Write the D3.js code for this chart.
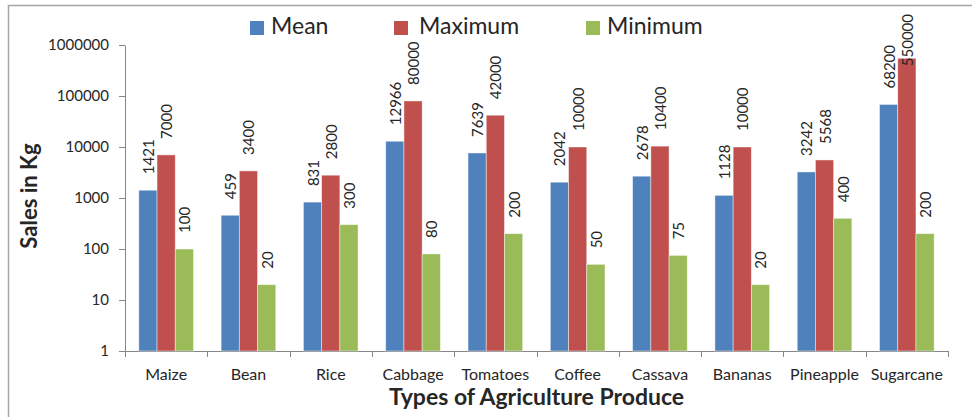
<!DOCTYPE html>
<html>
<head>
<meta charset="utf-8">
<script src="https://cdn.jsdelivr.net/npm/d3@7"></script>
<style>
  html, body { margin: 0; padding: 0; background: #fff; }
  svg { display: block; font-family: Lato, "Open Sans", sans-serif; }
</style>
</head>
<body>
<svg id="chart" width="972" height="417"></svg>
<script>
// Agricultural produce sales (kg): mean, maximum and minimum per crop
const categories = ["Maize", "Bean", "Rice", "Cabbage", "Tomatoes", "Coffee", "Cassava", "Bananas", "Pineapple", "Sugarcane"];
const meanValues = [1421, 459, 831, 12966, 7639, 2042, 2678, 1128, 3242, 68200];
const maxValues  = [7000, 3400, 2800, 80000, 42000, 10000, 10400, 10000, 5568, 550000];
const minValues  = [100, 20, 300, 80, 200, 50, 75, 20, 400, 200];
const seriesNames = ["Mean", "Maximum", "Minimum"];
const seriesColors = ["#4F81BD", "#C0504D", "#9BBB59"];
const yTickValues = [1, 10, 100, 1000, 10000, 100000, 1000000];

const seriesValues = [meanValues, maxValues, minValues];

const svg = d3.select("#chart");
const margin = { left: 125, right: 24, top: 45, bottom: 66 };
const W = 972, H = 417;
const plotW = W - margin.left - margin.right;
const plotH = H - margin.top - margin.bottom;

// outer chart frame
svg.append("rect")
  .attr("x", 8.5).attr("y", 5.5)
  .attr("width", W + 10).attr("height", H + 10)
  .attr("fill", "none").attr("stroke", "#a6a6a6").attr("stroke-width", 1.5);

const g = svg.append("g").attr("transform", `translate(${margin.left},${margin.top})`);

const x0 = d3.scaleBand().domain(categories).range([0, plotW]).paddingInner(0.336).paddingOuter(0.168);
const x1 = d3.scaleBand().domain(seriesNames).range([0, x0.bandwidth()]);
const y = d3.scaleLog().domain([1, 1000000]).range([plotH, 0]);

// y axis
const yAxis = g.append("g")
  .call(d3.axisLeft(y).tickValues(yTickValues).tickFormat(d3.format("d")).tickSize(6).tickSizeOuter(0));
yAxis.select(".domain").attr("stroke", "#868686");
yAxis.selectAll(".tick line").attr("stroke", "#868686");
yAxis.selectAll(".tick text").attr("font-size", 15).attr("fill", "#262626").attr("x", -16)
  .attr("font-family", "Lato, sans-serif");

// x axis with tick marks at category boundaries
const xAxisG = g.append("g").attr("transform", `translate(0,${plotH})`);
xAxisG.append("line").attr("x1", 0).attr("x2", plotW).attr("y1", 0.5).attr("y2", 0.5).attr("stroke", "#868686");
d3.range(categories.length + 1).forEach(i => {
  const xx = Math.round(i * plotW / categories.length) + 0.5;
  xAxisG.append("line").attr("x1", xx).attr("x2", xx).attr("y1", 0).attr("y2", 6).attr("stroke", "#868686");
});
xAxisG.selectAll("text.cat").data(categories).join("text")
  .attr("class", "cat")
  .attr("x", d => x0(d) + x0.bandwidth() / 2)
  .attr("y", 29)
  .attr("text-anchor", "middle")
  .attr("font-size", 16)
  .attr("fill", "#262626")
  .text(d => d);

// bars
const groups = g.selectAll("g.grp").data(categories).join("g")
  .attr("class", "grp")
  .attr("transform", d => `translate(${x0(d)},0)`);

const cells = groups.selectAll("g.cell")
  .data((c, i) => seriesNames.map((s, j) => ({ s, j, v: seriesValues[j][i] })))
  .join("g").attr("class", "cell");

cells.append("rect")
  .attr("x", d => x1(d.s))
  .attr("width", x1.bandwidth())
  .attr("y", d => y(d.v))
  .attr("height", d => plotH - y(d.v))
  .attr("fill", d => seriesColors[d.j])
  .attr("stroke", "rgba(255,255,255,0.55)")
  .attr("stroke-width", 0.8);

// rotated value labels above each bar
cells.append("text")
  .attr("font-size", 15)
  .attr("fill", "#262626")
  .attr("text-anchor", "start")
  .attr("dominant-baseline", "central")
  .text(d => d.v)
  .each(function (d) {
    const t = d3.select(this);
    const len = this.getComputedTextLength();
    const cx = x1(d.s) + x1.bandwidth() / 2;
    let base = y(d.v) - 16;
    const minBase = -31 + len; // keep label inside the chart's top edge
    if (base < minBase) base = minBase;
    t.attr("transform", `translate(${cx},${base}) rotate(-90)`);
  });

// axis titles
svg.append("text")
  .attr("transform", `translate(37,${margin.top + plotH / 2 - 2}) rotate(-90)`)
  .attr("text-anchor", "middle")
  .attr("font-size", 22).attr("font-weight", "bold").attr("fill", "#262626")
  .text("Sales in Kg");

svg.append("text")
  .attr("x", margin.left + plotW / 2)
  .attr("y", 405)
  .attr("text-anchor", "middle")
  .attr("font-size", 23).attr("font-weight", "bold").attr("fill", "#262626")
  .text("Types of Agriculture Produce");

// legend
const legendX = [250, 394, 586];
const legend = svg.selectAll("g.leg").data(seriesNames).join("g")
  .attr("class", "leg")
  .attr("transform", (d, i) => `translate(${legendX[i]},21)`);
legend.append("rect").attr("width", 14).attr("height", 14).attr("fill", (d, i) => seriesColors[i]);
legend.append("text")
  .attr("x", (d, i) => i === 1 ? 25 : 21)
  .attr("y", 13)
  .attr("font-size", 23)
  .attr("fill", "#262626")
  .text(d => d);
</script>
</body>
</html>
